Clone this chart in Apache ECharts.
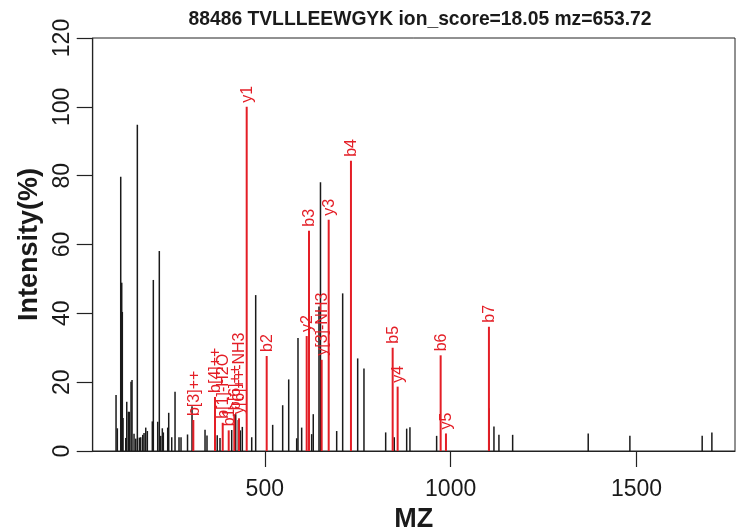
<!DOCTYPE html>
<html>
<head>
<meta charset="utf-8">
<script src="https://cdn.jsdelivr.net/npm/echarts@6/dist/echarts.min.js"></script>
<style>
html,body{margin:0;padding:0;background:#fff;}
#chart{width:736px;height:529px;}
</style>
</head>
<body>
<div id="chart"></div>
<script>
// Unmatched (black) peaks: m/z and relative intensity (%)
const blackMz = [99.8,103.3,112.4,115.1,116.7,118.6,125.9,128.6,132.9,135.6,140.1,142.8,148.2,152.8,157.1,162.5,166.2,171.6,175.1,179.7,184.0,197.4,200.1,211.9,216.2,220.0,224.3,227.0,238.8,241.5,249.6,258.5,269.2,274.6,292.1,304.2,339.2,344.5,372.0,379.5,411.0,421.7,428.7,434.1,439.5,464.8,475.5,521.2,548.1,564.3,585.8,589.3,599.2,626.1,630.4,645.8,649.8,693.4,709.5,749.9,766.8,825.2,848.3,881.7,890.5,962.3,1103.8,1116.5,1129.9,1166.8,1370.1,1482.2,1676.7,1702.8];
const blackInt = [16.3,6.6,79.7,48.9,40.4,9.6,3.8,14.3,11.4,11.4,20.1,20.6,5.0,3.6,94.8,3.9,4.0,4.7,5.2,6.8,5.8,8.6,49.7,8.5,58.1,4.4,6.6,5.4,6.8,11.1,4.0,17.2,4.0,4.0,4.8,13.0,6.2,4.5,4.6,3.8,6.1,10.7,9.0,6.0,7.0,4.0,45.3,7.6,13.3,20.8,3.7,32.8,6.8,4.9,10.7,42.0,78.1,5.8,45.8,26.9,24.0,5.4,4.0,6.5,6.9,4.4,12.4,7.1,4.7,4.7,5.1,4.4,4.4,5.4];

// Matched (red) peaks: m/z, relative intensity (%) and ion annotation
const redMz = [307.7,366.1,386.8,402.9,418.0,430.6,451.3,505.1,612.7,618.9,653.0,671.9,731.8,844.0,857.4,973.1,987.4,1103.0];
const redInt = [9.0,15.7,8.2,6.0,10.7,9.5,100,27.6,33.4,64.0,26.5,67.2,84.3,30.0,18.7,27.8,5.1,36.1];
const redLabels = ['b[3]++','b[4]++','b[1]-H2O','b1','b[6]++','y[6]++-NH3','y1','b2','y2','b3','y[3]-NH3','y3','b4','b5','y4','b6','y5','b7'];

const xTicks = [500,1000,1500];
const yTicks = [0,20,40,60,80,100,120];
const titleText = '88486 TVLLLEEWGYK ion_score=18.05 mz=653.72';

const FONT = '"Liberation Sans", Arial, Helvetica, sans-serif';
const RED = '#e41e26';

const blackData = blackMz.map((m,i)=>[m, blackInt[i]]);
const redData = redMz.map((m,i)=>[m, redInt[i], redLabels[i]]);

const chart = echarts.init(document.getElementById('chart'), null, {renderer:'canvas'});
chart.setOption({
  animation:false,
  backgroundColor:'#fff',
  title:{
    text:titleText, left:415, top:5, textAlign:'center',
    textStyle:{fontFamily:FONT, fontWeight:'bold', fontSize:19.3, color:'#1a1a1a'}
  },
  grid:{left:92.7, right:1, top:38, bottom:78, containLabel:false, outerBoundsMode:'none',
        show:true, borderColor:'#222', borderWidth:1, backgroundColor:'transparent'},
  xAxis:{
    type:'value', min:37, max:1765,
    name:'MZ', nameLocation:'middle', nameGap:53,
    nameTextStyle:{fontFamily:FONT, fontWeight:'bold', fontSize:27, color:'#1a1a1a'},
    axisLine:{show:true, onZero:false, lineStyle:{color:'#222', width:1.2}},
    axisTick:{show:true, length:16, customValues:xTicks, lineStyle:{color:'#222', width:1.2}},
    axisLabel:{show:true, customValues:xTicks, margin:27, fontFamily:FONT, fontSize:23, color:'#1a1a1a',
               formatter:function(v){ return String(v); }},
    splitLine:{show:false}
  },
  yAxis:{
    type:'value', min:0, max:120, interval:20,
    name:'Intensity(%)', nameLocation:'middle', nameGap:45,
    nameTextStyle:{fontFamily:FONT, fontWeight:'bold', fontSize:27, color:'#1a1a1a'},
    axisLine:{show:true, lineStyle:{color:'#222', width:1.2}},
    axisTick:{show:true, length:16, lineStyle:{color:'#222', width:1.2}},
    axisLabel:{show:true, rotate:90, margin:19, fontFamily:FONT, fontSize:23, color:'#1a1a1a',
               formatter:function(v){ return String(v); }},
    splitLine:{show:false}
  },
  series:[
    {
      type:'custom', name:'unmatched', data:blackData, clip:false,
      encode:{x:0, y:1},
      renderItem:function(params, api){
        const x = api.value(0), y = api.value(1);
        const p0 = api.coord([x,0]), p1 = api.coord([x,y]);
        return {type:'line', shape:{x1:p0[0], y1:p0[1], x2:p1[0], y2:p1[1]},
                style:{stroke:'#1a1a1a', lineWidth:1.5}};
      }
    },
    {
      type:'custom', name:'matched', data:redData, clip:false,
      encode:{x:0, y:1},
      renderItem:function(params, api){
        const x = api.value(0), y = api.value(1);
        const lab = redLabels[params.dataIndex];
        const p0 = api.coord([x,0]), p1 = api.coord([x,y]);
        return {type:'group', children:[
          {type:'line', shape:{x1:p0[0], y1:p0[1], x2:p1[0], y2:p1[1]},
           style:{stroke:RED, lineWidth:2}},
          {type:'text', x:p1[0]+1, y:p1[1]-4, rotation:Math.PI/2,
           style:{text:lab, fill:RED, font:'16px '+FONT, align:'left', verticalAlign:'middle'}}
        ]};
      }
    }
  ]
});
</script>
</body>
</html>
